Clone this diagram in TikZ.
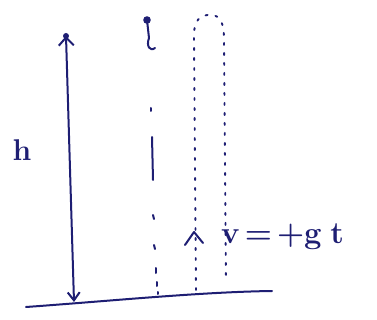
\documentclass[tikz,border=0pt]{standalone}
\usepackage{fontspec}
\usetikzlibrary{arrows.meta}
\definecolor{ink}{RGB}{30,30,115}
\begin{document}
\begin{tikzpicture}[x=1pt,y=-1pt,
  pen/.style={draw=ink,line width=2pt,line cap=round,line join=round},
  dotline/.style={draw=ink,line width=1.9pt,line cap=round,dash pattern=on 2pt off 8pt},
  lbl/.style={text=ink,inner sep=0pt}]
\useasboundingbox (0,0) rectangle (377,320);
% ground
\coordinate (g1) at (26,307);
\coordinate (g2) at (272,291);
\draw[pen] (g1) .. controls (110,301) and (200,292) .. (g2);
% height arrow
\coordinate (hb) at (74,302);
\coordinate (ht) at (66,36);
\draw[pen,{Straight Barb[length=8pt,width=12pt]}-{Straight Barb[length=8pt,width=15pt]}] (hb) -- (ht);
\fill[ink] (ht) circle (3pt);
\node[lbl,font=\fontsize{30}{30}\selectfont\bfseries] (h) at (22,150) {h};
% dropped ball column
\coordinate (b0) at (147,20);
\fill[ink] (b0) circle (3.8pt);
\draw[pen] (b0) -- (149,38) .. controls (146,46) and (150,52) .. (155,48);
\coordinate (c1) at (151,108);
\coordinate (c2) at (152,137);
\coordinate (c3) at (153,180);
\draw[pen] (c1) -- (151,111);
\draw[pen] (c2) -- (c3);
\draw[pen] (153,215) -- (154,219);
\draw[pen] (154,245) -- (155,249);
\draw[pen] (156,268) -- (156,273);
\draw[pen] (157,282) -- (157,286);
\draw[pen] (158,292) -- (158,294);
% thrown-up loop
\coordinate (l0) at (196,290);
\coordinate (r0) at (226,282);
\draw[dotline] (l0) -- (194,40) .. controls (193,20) and (200,14) .. (212,15)
  .. controls (220,16) and (224,22) .. (224,40) -- (r0);
% upward caret
\coordinate (car) at (194,232);
\draw[pen] (185,245) -- (car) -- (203,243);
% velocity text
\node[lbl,font=\fontsize{31}{31}\selectfont\bfseries,anchor=west] (v) at (221,237) {v\,=\,+g\;t};
\end{tikzpicture}
\end{document}
